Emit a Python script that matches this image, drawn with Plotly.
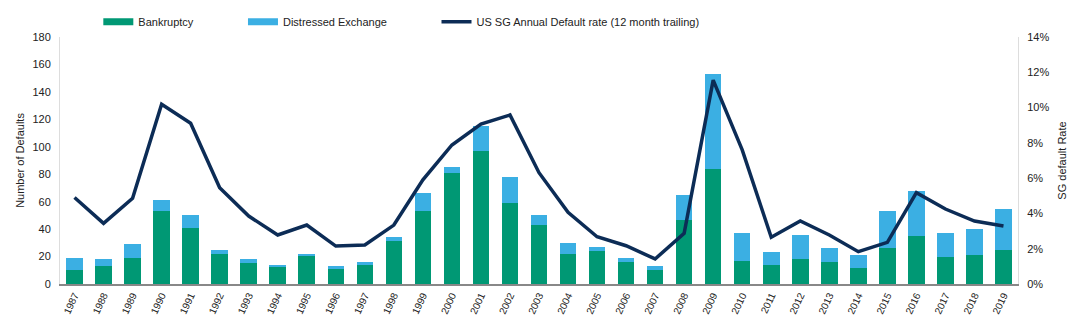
import plotly.graph_objects as go

years = [str(y) for y in range(1987, 2020)]
bankruptcy = [10, 13, 19, 53, 41, 22, 15, 13, 21, 11, 14, 31, 53, 81, 97, 59, 43, 22, 24, 16, 10, 47,
              84, 17, 14, 18, 16, 12, 26, 35, 20, 21, 25]
distressed = [9, 5, 10, 8, 9, 3, 3, 1, 1, 2, 2, 3, 13, 4, 18, 19, 7, 8, 3, 3, 3, 18,
              69, 20, 9, 18, 10, 9, 27, 33, 17, 19, 30]
default_rate = [4.9, 3.44, 4.86, 10.19, 9.11, 5.46, 3.85, 2.78, 3.34, 2.15, 2.21, 3.34, 5.9, 7.88, 9.07, 9.58,
                6.31, 4.06, 2.68, 2.17, 1.42, 2.87, 11.56, 7.6, 2.65, 3.57, 2.78, 1.83, 2.36, 5.18, 4.25, 3.57, 3.29]
rate_ticks = [0, 2, 4, 6, 8, 10, 12, 14]

GREEN = "#009874"
BLUE = "#3BAFE3"
NAVY = "#0C2C56"
FONT = "Liberation Sans, Arial, sans-serif"
TXT = "#222"

fig = go.Figure()
fig.add_trace(go.Bar(x=years, y=bankruptcy, name="Bankruptcy", showlegend=False,
                     marker=dict(color=GREEN, line_width=0)))
fig.add_trace(go.Bar(x=years, y=distressed, name="Distressed Exchange", showlegend=False,
                     marker=dict(color=BLUE, line_width=0)))
fig.add_trace(go.Scatter(x=years, y=default_rate, name="US SG Annual Default rate (12 month trailing)",
                         yaxis="y2", mode="lines", line=dict(color=NAVY, width=3.5), legend="legend3"))
# legend-only swatches (wide rectangles like the original)
fig.add_trace(go.Scatter(x=[None], y=[None], name="Bankruptcy", mode="lines",
                         line=dict(color=GREEN, width=7), legend="legend"))
fig.add_trace(go.Scatter(x=[None], y=[None], name="Distressed Exchange", mode="lines",
                         line=dict(color=BLUE, width=7), legend="legend2"))

leg = dict(yanchor="middle", y=1.062, xanchor="left", font=dict(size=11, color=TXT),
           bgcolor="rgba(0,0,0,0)")

fig.update_layout(
    width=1080, height=336,
    barmode="stack", bargap=0.43,
    margin=dict(l=60, r=62, t=37, b=52, autoexpand=False),
    paper_bgcolor="white", plot_bgcolor="white",
    font=dict(family=FONT, size=11, color=TXT),
    legend=dict(x=0.040, **leg),
    legend2=dict(x=0.191, **leg),
    legend3=dict(x=0.393, **leg),
    xaxis=dict(type="category", tickangle=-65, showgrid=False, showline=True, linecolor="#888",
               linewidth=1.5, ticks="", tickfont=dict(size=10, color=TXT)),
    yaxis=dict(range=[0, 180], dtick=20, showgrid=False, showline=True, linecolor="#ddd", linewidth=1,
               zeroline=False, ticks="", tickfont=dict(size=11, color=TXT), ticklabelstandoff=6,
               title=dict(text="Number of Defaults", font=dict(size=11, color=TXT), standoff=5)),
    yaxis2=dict(overlaying="y", side="right", range=[0, 14], tickvals=rate_ticks,
                ticktext=[f"{v}%" for v in rate_ticks], showgrid=False, showline=True,
                linecolor="#ddd", linewidth=1, zeroline=False, ticks="",
                tickfont=dict(size=11, color=TXT), ticklabelstandoff=6,
                title=dict(text="SG default Rate", font=dict(size=11, color=TXT), standoff=9)),
)

fig.write_html("out.html")
